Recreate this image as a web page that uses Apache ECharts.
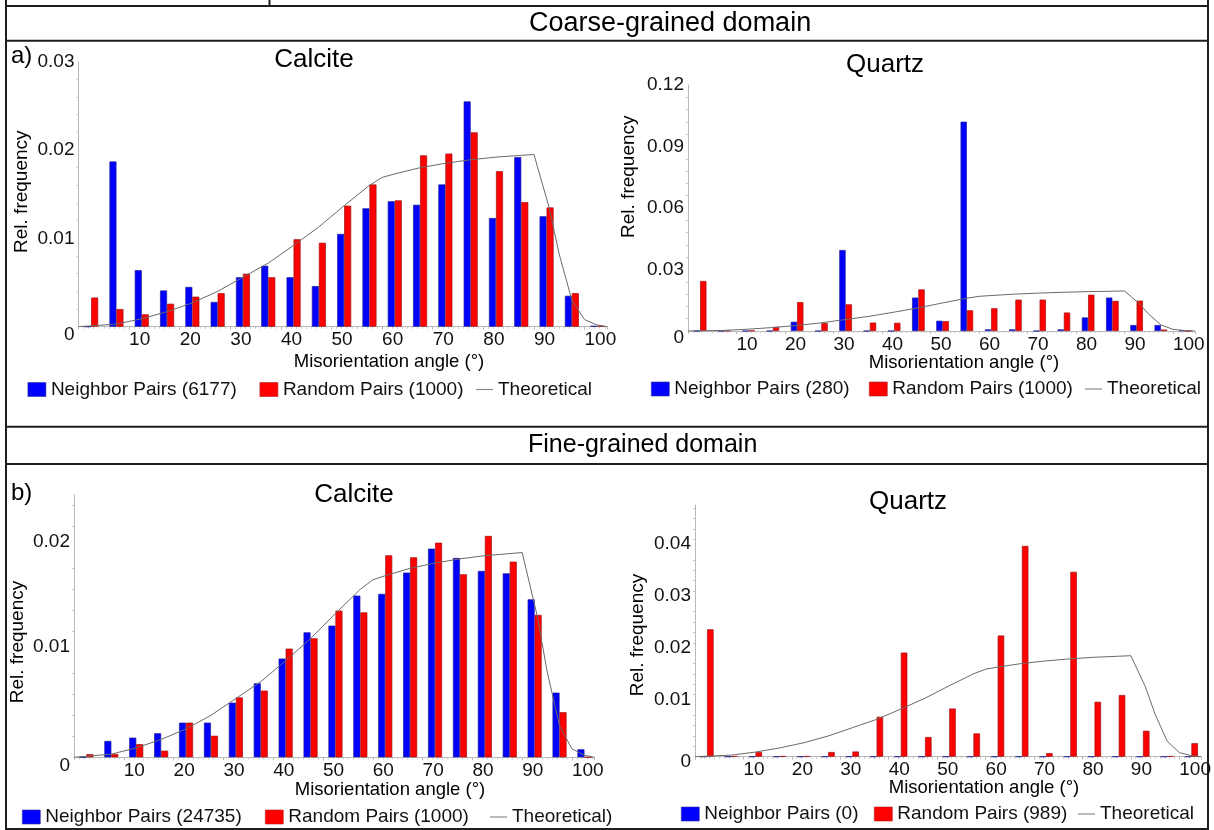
<!DOCTYPE html>
<html>
<head>
<meta charset="utf-8">
<script src="https://cdn.jsdelivr.net/npm/echarts@6/dist/echarts.min.js"></script>
<style>
  html, body { margin: 0; padding: 0; background: #fff; }
  #chart { width: 1214px; height: 830px; }
</style>
</head>
<body>
<div id="chart"></div>
<script>
// Misorientation angle bins (centres of 5° classes, degrees)
const binCenters = [2.5, 7.5, 12.5, 17.5, 22.5, 27.5, 32.5, 37.5, 42.5, 47.5, 52.5,
                    57.5, 62.5, 67.5, 72.5, 77.5, 82.5, 87.5, 92.5, 97.5, 102.5];

// Coarse-grained domain, calcite
const coarseCalciteNeighbor = [0, 0.0187, 0.0064, 0.0041, 0.0045, 0.0028, 0.0056, 0.0069, 0.0056, 0.0046, 0.0105,
                               0.0134, 0.0142, 0.0138, 0.0161, 0.0255, 0.0123, 0.0192, 0.0125, 0.0035, 0.0001];
const coarseCalciteRandom   = [0.0033, 0.0020, 0.0014, 0.0026, 0.0034, 0.0038, 0.0060, 0.0056, 0.0099, 0.0095, 0.0137,
                               0.0161, 0.0143, 0.0194, 0.0196, 0.0220, 0.0176, 0.0141, 0.0135, 0.0038, 0.0001];

// Coarse-grained domain, quartz
const coarseQuartzNeighbor = [0, 0, 0, 0, 0.0045, 0, 0.0395, 0, 0, 0.0163, 0.0050,
                              0.1021, 0.0008, 0.0008, 0, 0.0008, 0.0066, 0.0163, 0.0029, 0.0029, 0.0003];
const coarseQuartzRandom   = [0.0244, 0.0002, 0.0002, 0.0020, 0.0141, 0.0039, 0.0130, 0.0041, 0.0040, 0.0203, 0.0048,
                              0.0101, 0.0111, 0.0153, 0.0153, 0.0090, 0.0177, 0.0147, 0.0148, 0.0007, 0];

// Fine-grained domain, calcite
const fineCalciteNeighbor = [0, 0.00156, 0.00187, 0.00229, 0.0033, 0.0033, 0.0052, 0.00705, 0.0094, 0.0119, 0.01254,
                             0.0154, 0.01556, 0.01759, 0.01987, 0.01898, 0.01775, 0.01752, 0.01505, 0.00616, 0.00076];
const fineCalciteRandom   = [0.0003, 0.0003, 0.00125, 0.00063, 0.0033, 0.00205, 0.0057, 0.00635, 0.01035, 0.01133, 0.01397,
                             0.0138, 0.01924, 0.01905, 0.02044, 0.01743, 0.02108, 0.01863, 0.01356, 0.00429, 0];

// Fine-grained domain, quartz (no neighbour pairs)
const fineQuartzNeighbor = [0, 0, 0, 0, 0, 0, 0, 0, 0, 0, 0,
                            0, 0, 0, 0, 0, 0, 0, 0, 0, 0];
const fineQuartzRandom   = [0.0246, 0.0001, 0.0009, 0.0001, 0.0001, 0.0009, 0.0010, 0.0077, 0.0201, 0.0038, 0.0093,
                            0.0045, 0.0234, 0.0407, 0.0007, 0.0357, 0.0106, 0.0119, 0.0050, 0.0001, 0.0026];

// Theoretical (random) misorientation distribution
const theoAngles = [0, 2.5, 7.5, 12.5, 17.5, 22.5, 27.5, 32.5, 37.5, 42.5, 47.5, 52.5, 57.5, 60,
                    62.5, 67.5, 72.5, 77.5, 82.5, 87.5, 90, 93, 95, 97.5, 100, 102.5, 104.5];
const theoValues = [0, 0.0001, 0.0003, 0.0009, 0.0017, 0.0027, 0.0040, 0.0056, 0.0072, 0.0092, 0.0113, 0.0137, 0.0160, 0.0169,
                    0.0173, 0.0180, 0.0185, 0.0189, 0.0192, 0.0194, 0.0195, 0.0135, 0.0082, 0.0030, 0.0008, 0.0002, 0];

// Axis ticks
const xTickStep = 10;
const xMax = 104.5;

// Legend captions
const legendCoarseCalcite = ['Neighbor Pairs (6177)', 'Random Pairs (1000)', 'Theoretical'];
const legendCoarseQuartz  = ['Neighbor Pairs (280)', 'Random Pairs (1000)', 'Theoretical'];
const legendFineCalcite   = ['Neighbor Pairs (24735)', 'Random Pairs (1000)', 'Theoretical)'];
const legendFineQuartz    = ['Neighbor Pairs (0)', 'Random Pairs (989)', 'Theoretical'];

const FONT = "'Liberation Sans', Arial, Helvetica, sans-serif";
const BLUE = '#0000ff';
const RED = '#ff0000';
const CURVE = '#6a6a6a';
const LEGEND_LINE = '#8a8a8a';

const pairs = (xs, ys) => xs.map((x, i) => [x, ys[i]]);

// Panel layout (pixels)
const panels = [
  { grid: { left: 78.5, top: 61.7, width: 528.8, height: 265 }, yMax: 0.03, yStep: 0.01, showMaxY: true,
    labelShift: 0, zeroShift: 8, barWidth: 7,
    neighbor: coarseCalciteNeighbor, random: coarseCalciteRandom, legend: legendCoarseCalcite,
    legendLefts: [27.6, 259.6, 476], legendY: 389.5 },
  { grid: { left: 688, top: 85, width: 506.8, height: 246 }, yMax: 0.12, yStep: 0.03, showMaxY: true,
    labelShift: 0, zeroShift: 7, barWidth: 6.3,
    neighbor: coarseQuartzNeighbor, random: coarseQuartzRandom, legend: legendCoarseQuartz,
    legendLefts: [651, 869, 1085], legendY: 389 },
  { grid: { left: 74, top: 494.8, width: 520.4, height: 262.5 }, yMax: 0.025, yStep: 0.01, showMaxY: false,
    labelShift: -5.5, zeroShift: 8, barWidth: 7,
    neighbor: fineCalciteNeighbor, random: fineCalciteRandom, legend: legendFineCalcite,
    legendLefts: [22, 265, 490], legendY: 817 },
  { grid: { left: 695, top: 505, width: 506.8, height: 251.7 }, yMax: 0.0486, yStep: 0.01, showMaxY: false,
    labelShift: -5.5, zeroShift: 5, barWidth: 6.5,
    neighbor: fineQuartzNeighbor, random: fineQuartzRandom, legend: legendFineQuartz,
    legendLefts: [681, 874, 1078], legendY: 814 }
];

const grids = [], xAxes = [], yAxes = [], series = [], legends = [];

panels.forEach((p, i) => {
  grids.push(Object.assign({ containLabel: false }, p.grid));

  xAxes.push({
    type: 'value', gridIndex: i, min: 0, max: xMax, interval: xTickStep,
    axisLine: { show: true, lineStyle: { color: '#b8b8b8', width: 1 } },
    axisTick: { show: true, length: 3, lineStyle: { color: '#b8b8b8' } },
    minorTick: { show: true, splitNumber: 10, length: 2, lineStyle: { color: '#c8c8c8' } },
    splitLine: { show: false },
    axisLabel: {
      showMinLabel: false, showMaxLabel: false, align: 'left', margin: 4,
      fontFamily: FONT, fontSize: 19, color: '#111'
    }
  });

  const shiftUp = p.labelShift < 0 ? -2 * p.labelShift : 0;
  yAxes.push({
    type: 'value', gridIndex: i, min: 0, max: p.yMax, interval: p.yStep,
    axisLine: { show: true, lineStyle: { color: '#b8b8b8', width: 1 } },
    axisTick: { show: false },
    minorTick: { show: true, splitNumber: 5, length: 2, lineStyle: { color: '#c8c8c8' } },
    splitLine: { show: false },
    axisLabel: {
      showMaxLabel: p.showMaxY, margin: 4,
      fontFamily: FONT, fontSize: 19, color: '#111',
      formatter: v => v === 0 ? '{z|0}' : '{n|' + parseFloat(v.toFixed(3)) + '}',
      rich: {
        z: { fontFamily: FONT, fontSize: 19, color: '#111', padding: [2 * p.zeroShift, 0, 0, 0] },
        n: { fontFamily: FONT, fontSize: 19, color: '#111', padding: [0, 0, shiftUp, 0] }
      }
    }
  });

  series.push({
    name: p.legend[0], type: 'bar', xAxisIndex: i, yAxisIndex: i,
    data: pairs(binCenters, p.neighbor), barWidth: p.barWidth, barGap: '0%',
    itemStyle: { color: BLUE, borderColor: '#1c1c9a', borderWidth: 0.7 }
  });
  series.push({
    name: p.legend[1], type: 'bar', xAxisIndex: i, yAxisIndex: i,
    data: pairs(binCenters, p.random), barWidth: p.barWidth, barGap: '0%',
    itemStyle: { color: RED, borderColor: '#a01010', borderWidth: 0.7 }
  });
  series.push({
    name: p.legend[2], type: 'line', xAxisIndex: i, yAxisIndex: i,
    data: pairs(theoAngles, theoValues), symbol: 'none', smooth: false,
    lineStyle: { color: CURVE, width: 1 }, z: 5
  });

  // one legend component per entry, so every entry sits where it belongs
  const swatch = [
    { color: BLUE, borderColor: '#3030a0', borderWidth: 0.6 },
    { color: RED, borderColor: '#b02020', borderWidth: 0.6 },
    { color: LEGEND_LINE, borderWidth: 0 }
  ];
  p.legend.forEach((name, k) => {
    const isLine = k === 2;
    legends.push({
      left: p.legendLefts[k], top: p.legendY - 9.5, padding: 0,
      orient: 'horizontal', selectedMode: false,
      itemWidth: isLine ? 17 : 18, itemHeight: isLine ? 1.2 : 14,
      icon: 'rect',
      itemStyle: swatch[k],
      textStyle: { fontFamily: FONT, fontSize: 19, color: '#111' },
      data: [{ name: name, icon: 'rect', itemStyle: swatch[k] }]
    });
  });
});

// Frame of the figure and the two domain header rows
const ink = '#1e1e1e';
const hline = (y, x1, x2) => ({ type: 'line', silent: true, shape: { x1: x1, y1: y, x2: x2, y2: y }, style: { stroke: ink, lineWidth: 2 } });
const vline = (x, y1, y2) => ({ type: 'line', silent: true, shape: { x1: x, y1: y1, x2: x, y2: y2 }, style: { stroke: ink, lineWidth: 2 } });
const text = (t, x, y, size, align, rot) => ({
  type: 'text', silent: true, x: x, y: y, rotation: rot || 0,
  style: { text: t, font: size + 'px ' + FONT, fill: '#000', textAlign: align || 'center', textVerticalAlign: 'middle' }
});

const graphics = [
  vline(6, 0, 830), vline(1208, 0, 830), vline(269.5, 0, 6),
  hline(6, 6, 1208), hline(40.7, 6, 1208), hline(426.7, 6, 1208), hline(464, 6, 1208), hline(829, 6, 1208),
  text('Coarse-grained domain', 529, 24, 27, 'left'),
  text('Fine-grained domain', 528, 445, 25, 'left'),
  text('a)', 11, 56.7, 24, 'left'),
  text('b)', 11, 493, 24, 'left'),
  text('Calcite', 314, 60, 26), text('Quartz', 885, 65, 26),
  text('Calcite', 354, 495, 26), text('Quartz', 908, 502, 26),
  text('Misorientation angle (°)', 389, 361.7, 18.5), text('Misorientation angle (°)', 964, 363.3, 18.5),
  text('Misorientation angle (°)', 390, 790, 18.5), text('Misorientation angle (°)', 984, 788.3, 18.5),
  text('Rel. frequency', 21.4, 191.7, 19, 'center', Math.PI / 2),
  text('Rel. frequency', 629, 176.7, 19, 'center', Math.PI / 2),
  text('Rel. frequency', 17.5, 642, 19, 'center', Math.PI / 2),
  text('Rel. frequency', 638, 635, 19, 'center', Math.PI / 2)
];

const chart = echarts.init(document.getElementById('chart'), null, { renderer: 'canvas' });
chart.setOption({
  animation: false,
  backgroundColor: '#ffffff',
  textStyle: { fontFamily: FONT },
  grid: grids,
  xAxis: xAxes,
  yAxis: yAxes,
  legend: legends,
  series: series,
  graphic: graphics
});
</script>
</body>
</html>
